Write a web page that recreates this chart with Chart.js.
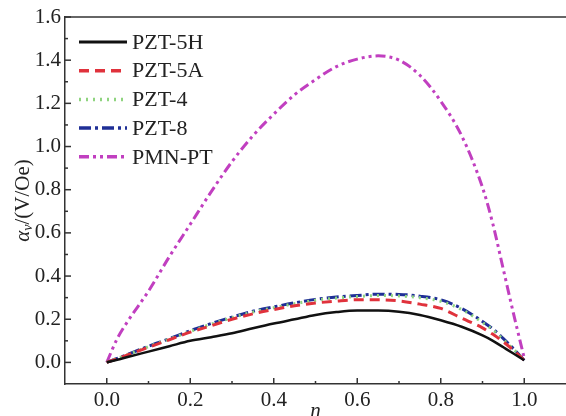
<!DOCTYPE html>
<html>
<head>
<meta charset="utf-8">
<script src="https://cdn.jsdelivr.net/npm/chart.js@4"></script>
<style>
  html, body { margin: 0; padding: 0; background: #fff; }
  #wrap { width: 566px; height: 416px; }
</style>
</head>
<body>
<div id="wrap"><canvas id="chart" width="566" height="416"></canvas></div>
<script>
// n values shared by all curves
const nValues = [0, 0.025, 0.05, 0.1, 0.15, 0.2, 0.25, 0.3, 0.35, 0.4, 0.45, 0.5,
  0.55, 0.6, 0.65, 0.7, 0.75, 0.8, 0.85, 0.9, 0.925, 0.95, 0.975, 1.0];

const pzt5H = [0, 0.012, 0.025, 0.05, 0.075, 0.10, 0.117, 0.135, 0.158, 0.18, 0.20, 0.22,
  0.233, 0.24, 0.24, 0.235, 0.22, 0.195, 0.165, 0.125, 0.10, 0.07, 0.04, 0.01];
const pzt5A = [0, 0.017, 0.035, 0.07, 0.105, 0.14, 0.17, 0.20, 0.225, 0.245, 0.262, 0.275,
  0.284, 0.29, 0.29, 0.285, 0.27, 0.25, 0.205, 0.16, 0.13, 0.095, 0.055, 0.01];
const pzt4 = [0, 0.018, 0.036, 0.073, 0.108, 0.143, 0.177, 0.207, 0.233, 0.253, 0.272, 0.288,
  0.298, 0.305, 0.31, 0.308, 0.30, 0.283, 0.245, 0.185, 0.15, 0.105, 0.06, 0.01];
const pzt8 = [0, 0.018, 0.037, 0.075, 0.11, 0.147, 0.18, 0.21, 0.237, 0.257, 0.276, 0.292,
  0.303, 0.31, 0.316, 0.315, 0.307, 0.29, 0.25, 0.19, 0.155, 0.11, 0.062, 0.01];
const pmnPt = [0, 0.11, 0.19, 0.33, 0.49, 0.64, 0.79, 0.93, 1.05, 1.15, 1.24, 1.31,
  1.37, 1.405, 1.42, 1.40, 1.33, 1.21, 1.05, 0.81, 0.64, 0.43, 0.22, 0.02];

const seriesNames = ['PZT-5H', 'PZT-5A', 'PZT-4', 'PZT-8', 'PMN-PT'];

// tick labels and minor ticks
const xTicks = [0, 0.2, 0.4, 0.6, 0.8, 1.0];
const xMinorTicks = [0.1, 0.3, 0.5, 0.7, 0.9];
const yTicks = [0, 0.2, 0.4, 0.6, 0.8, 1.0, 1.2, 1.4, 1.6];
const yMinorTicks = [0.1, 0.3, 0.5, 0.7, 0.9, 1.1, 1.3, 1.5];

const serif = "'Liberation Serif', 'Times New Roman', serif";
const axisColor = '#333';

function points(values) {
  return values.map((v, i) => ({ x: nValues[i], y: v }));
}

const styles = [
  { color: '#111111', dash: [], width: 2.5 },
  { color: '#e0323c', dash: [10, 6], width: 3 },
  { color: '#8fd47f', dash: [2, 5], width: 3 },
  { color: '#1f2f96', dash: [12, 4, 3, 4], width: 3 },
  { color: '#c13fc0', dash: [10, 4, 3, 4, 3, 4], width: 3 }
];

const seriesData = [pzt5H, pzt5A, pzt4, pzt8, pmnPt];

// inward ticks, top frame line, legend and the y title
const axisDecor = {
  id: 'axisDecor',
  afterDraw(chart) {
    const { ctx, chartArea, scales } = chart;
    const x = scales.x, y = scales.y;
    ctx.save();
    ctx.strokeStyle = axisColor;
    ctx.lineWidth = 1.5;

    ctx.beginPath();
    ctx.moveTo(chartArea.left, chartArea.top);
    ctx.lineTo(chartArea.right, chartArea.top);
    ctx.stroke();

    const tick = (vals, len, horiz) => {
      vals.forEach(v => {
        ctx.beginPath();
        if (horiz) {
          const px = x.getPixelForValue(v);
          ctx.moveTo(px, chartArea.bottom);
          ctx.lineTo(px, chartArea.bottom - len);
        } else {
          const py = y.getPixelForValue(v);
          ctx.moveTo(chartArea.left, py);
          ctx.lineTo(chartArea.left + len, py);
        }
        ctx.stroke();
      });
    };
    tick(xTicks, 6, true);
    tick(xMinorTicks, 3, true);
    tick(yTicks, 6, false);
    tick(yMinorTicks, 3, false);

    // legend (the built-in one ignores dashes with point style lines)
    ctx.font = '22px ' + serif;
    ctx.textBaseline = 'middle';
    ctx.fillStyle = '#222';
    chart.data.datasets.forEach((ds, i) => {
      const ly = chartArea.top + 25 + i * 28.7;
      const lx = chartArea.left + 14;
      ctx.save();
      ctx.strokeStyle = ds.borderColor;
      ctx.lineWidth = ds.borderWidth + 0.5;
      ctx.setLineDash(ds.borderDash);
      ctx.beginPath();
      ctx.moveTo(lx, ly);
      ctx.lineTo(lx + 48, ly);
      ctx.stroke();
      ctx.restore();
      ctx.fillText(ds.label, lx + 53, ly + 1);
    });

    // y title: alpha_v/(V/Oe)
    ctx.translate(23, (chartArea.top + chartArea.bottom) / 2);
    ctx.rotate(-Math.PI / 2);
    const parts = [
      { t: 'α', f: 'italic 21px ' + serif, dy: 0 },
      { t: 'v', f: 'italic 14px ' + serif, dy: 5 },
      { t: '/(V/Oe)', f: '21px ' + serif, dy: 0 }
    ];
    let total = 0;
    parts.forEach(p => { ctx.font = p.f; p.w = ctx.measureText(p.t).width; total += p.w; });
    let cx = -total / 2;
    parts.forEach(p => {
      ctx.font = p.f;
      ctx.fillText(p.t, cx, p.dy);
      cx += p.w;
    });
    ctx.restore();
  }
};

new Chart(document.getElementById('chart'), {
  type: 'line',
  data: {
    datasets: seriesNames.map((name, i) => ({
      label: name,
      data: points(seriesData[i]),
      borderColor: styles[i].color,
      backgroundColor: styles[i].color,
      borderDash: styles[i].dash,
      borderWidth: styles[i].width,
      pointRadius: 0,
      fill: false,
      cubicInterpolationMode: 'monotone'
    }))
  },
  options: {
    responsive: false,
    animation: false,
    layout: { padding: { top: 17, right: 0, bottom: 0, left: 0 } },
    plugins: {
      tooltip: { enabled: false },
      legend: { display: false }
    },
    scales: {
      x: {
        type: 'linear',
        min: -0.1,
        max: 1.1,
        afterBuildTicks: (scale) => { scale.ticks = xTicks.map(v => ({ value: v })); },
        afterFit: (scale) => { scale.height = 32; },
        grid: { display: false, drawTicks: false },
        border: { display: true, color: axisColor, width: 1.5 },
        ticks: {
          padding: 4,
          color: '#222',
          font: { family: serif, size: 21 },
          callback: (v) => v.toFixed(1)
        },
        title: {
          display: true,
          text: 'n',
          color: '#222',
          padding: { top: 0, bottom: -8 },
          font: { family: serif, size: 21, style: 'italic' }
        }
      },
      y: {
        type: 'linear',
        min: -0.1,
        max: 1.6,
        afterBuildTicks: (scale) => { scale.ticks = yTicks.map(v => ({ value: v })); },
        afterFit: (scale) => { scale.width = 65; },
        grid: { display: false, drawTicks: false },
        border: { display: true, color: axisColor, width: 1.5 },
        ticks: {
          padding: 4,
          color: '#222',
          font: { family: serif, size: 21 },
          callback: (v) => v.toFixed(1)
        }
      }
    }
  },
  plugins: [axisDecor]
});
</script>
</body>
</html>
